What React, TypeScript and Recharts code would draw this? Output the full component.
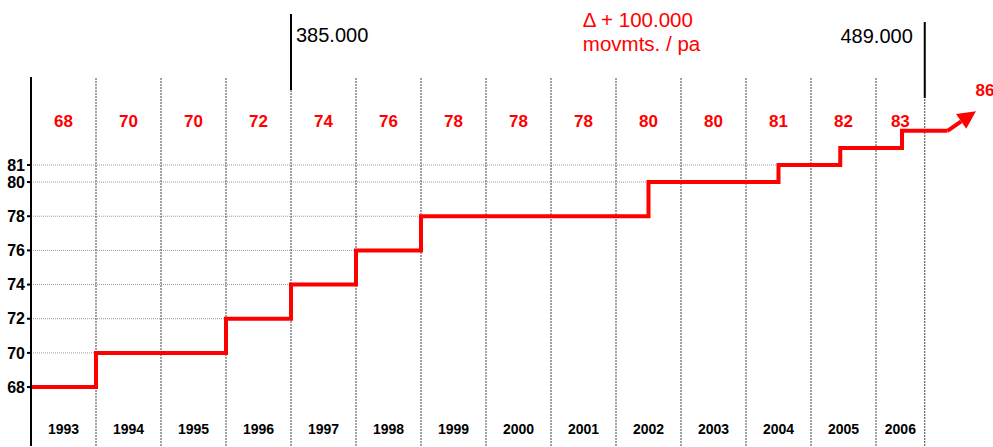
import React from "react";
import {
  ComposedChart,
  Line,
  XAxis,
  YAxis,
  ReferenceLine,
  ReferenceDot,
} from "recharts";

// years along the bottom and the value written above each column
const years = ["1993", "1994", "1995", "1996", "1997", "1998", "1999", "2000", "2001", "2002", "2003", "2004", "2005", "2006"];
const yearValues = [68, 70, 70, 72, 74, 76, 78, 78, 78, 80, 80, 81, 82, 83];

// column borders (in column units, the last column is a bit narrower)
const columnEdges = [0, 1, 2, 3, 4, 5, 6, 7, 8, 9, 10, 11, 12, 13, 13.75];

// the red staircase
const stepX = [0, 1, 3, 4, 5, 6, 9.5, 11.5, 12.45, 13.4, 14.1];
const stepY = [68, 70, 72, 74, 76, 78, 80, 81, 82, 83, 83];

// the arrow going on after 2006
const arrowX = [14.1, 14.31];
const arrowY = [83, 83.55];
const forecastLabel = "86";

const yTicks = [68, 70, 72, 74, 76, 78, 80, 81];

// black marker lines above the chart
const milestoneX = [4, 13.75];
const milestoneTop = [89.84, 89.37];
const milestoneBottom = [85.39, 84.92];
const milestoneText = ["385.000", "489.000"];

const deltaNote = ["Δ + 100.000", "movmts. / pa"];
const deltaAt = { x: 8.49, y: 89.08 };

const Y_DOMAIN: [number, number] = [64.55, 86.15];
const X_DOMAIN: [number, number] = [0, 14.8];
const FONT = '"Liberation Sans", Arial, sans-serif';
const RED = "#ff0000";

const centers = years.map((_, i) => (columnEdges[i] + columnEdges[i + 1]) / 2);
const stepData = stepX.map((x, i) => ({ x, v: stepY[i] }));
const arrowData = arrowX.map((x, i) => ({ x, v: arrowY[i] }));

const nearest = (v: number) => {
  let best = 0;
  centers.forEach((c, i) => {
    if (Math.abs(c - v) < Math.abs(centers[best] - v)) best = i;
  });
  return best;
};

const renderYearTick = (props: any) => {
  const { x, y, payload } = props;
  const i = nearest(Number(payload?.value));
  return (
    <text key={`yt-${i}`} x={x} y={y - 20} textAnchor="middle" fontFamily={FONT} fontSize={14} fontWeight="bold" fill="#000">
      {years[i]}
    </text>
  );
};

const renderValueTick = (props: any) => {
  const { x, y, payload } = props;
  const i = nearest(Number(payload?.value));
  return (
    <text key={`vt-${i}`} x={x} y={y + 58} textAnchor="middle" fontFamily={FONT} fontSize={17} fontWeight="bold" fill={RED}>
      {yearValues[i]}
    </text>
  );
};

const ArrowHead = (props: any) => {
  const { cx, cy, index, points } = props;
  if (index !== arrowX.length - 1) return <g key={`a-${index}`} />;
  let dx = 26;
  let dy = -22;
  if (points && points.length > 1) {
    dx = cx - points[index - 1].x;
    dy = cy - points[index - 1].y;
  }
  const len = Math.hypot(dx, dy) || 1;
  const ux = dx / len;
  const uy = dy / len;
  const tipX = cx + ux * 18;
  const tipY = cy + uy * 18;
  const nx = -uy;
  const ny = ux;
  const pts = `${tipX},${tipY} ${cx + nx * 9},${cy + ny * 9} ${cx - nx * 9},${cy - ny * 9}`;
  return (
    <g key={`a-${index}`}>
      <polygon points={pts} fill={RED} />
      <text x={tipX + 9} y={tipY - 15} textAnchor="middle" fontFamily={FONT} fontSize={17} fontWeight="bold" fill={RED}>
        {forecastLabel}
      </text>
    </g>
  );
};

export default function App() {
  return (
    <div style={{ position: "absolute", top: 0, left: 0 }}>
      <ComposedChart width={993} height={447} margin={{ top: 76, right: 0, bottom: 0, left: 0 }}>
        <XAxis
          dataKey="x"
          type="number"
          domain={X_DOMAIN}
          allowDataOverflow
          ticks={centers}
          interval={0}
          height={1}
          axisLine={false}
          tickLine={false}
          tick={renderYearTick}
        />
        <XAxis
          xAxisId="top"
          orientation="top"
          dataKey="x"
          type="number"
          domain={X_DOMAIN}
          allowDataOverflow
          ticks={centers}
          interval={0}
          height={1}
          axisLine={false}
          tickLine={false}
          tick={renderValueTick}
        />
        <YAxis
          type="number"
          domain={Y_DOMAIN}
          allowDataOverflow
          ticks={yTicks}
          interval={0}
          width={31}
          tickSize={4}
          axisLine={{ stroke: "#000", strokeWidth: 2 }}
          tickLine={{ stroke: "#000", strokeWidth: 2 }}
          tick={{ fill: "#000", fontSize: 16, fontWeight: "bold", fontFamily: FONT }}
        />

        {/* horizontal guides run from the axis to where the staircase reaches that level */}
        {yTicks
          .filter((t) => stepY.indexOf(t) > 0)
          .map((t) => (
            <ReferenceLine
              key={`h-${t}`}
              segment={[
                { x: 0, y: t },
                { x: stepX[stepY.indexOf(t)], y: t },
              ]}
              stroke="#999"
              strokeDasharray="1 1"
            />
          ))}

        {columnEdges.slice(1).map((e) => (
          <ReferenceLine
            key={`v-${e}`}
            segment={[
              { x: e, y: Y_DOMAIN[0] },
              { x: e, y: Y_DOMAIN[1] },
            ]}
            stroke="#444"
            strokeDasharray="2 1"
          />
        ))}

        {milestoneX.map((m, i) => (
          <ReferenceLine
            key={`m-${m}`}
            ifOverflow="visible"
            segment={[
              { x: m, y: milestoneTop[i] },
              { x: m, y: milestoneBottom[i] },
            ]}
            stroke="#000"
            strokeWidth={2}
            label={(p: any) => {
              const vb = p.viewBox || {};
              return i === 0 ? (
                <text x={vb.x + 5} y={vb.y + 28} fontFamily={FONT} fontSize={20} fill="#000">
                  {milestoneText[i]}
                </text>
              ) : (
                <text x={vb.x - 12} y={vb.y + 21} textAnchor="end" fontFamily={FONT} fontSize={20} fill="#000">
                  {milestoneText[i]}
                </text>
              );
            }}
          />
        ))}

        <ReferenceDot
          x={deltaAt.x}
          y={deltaAt.y}
          r={0}
          ifOverflow="visible"
          shape={(p: any) => (
            <text x={p.cx} y={p.cy} fontFamily={FONT} fontSize={20.5} fill={RED}>
              <tspan x={p.cx}>{deltaNote[0]}</tspan>
              <tspan x={p.cx} dy={24}>{deltaNote[1]}</tspan>
            </text>
          )}
        />

        <Line
          data={stepData}
          dataKey="v"
          type="stepAfter"
          stroke={RED}
          strokeWidth={4}
          dot={false}
          isAnimationActive={false}
        />
        <Line
          data={arrowData}
          dataKey="v"
          type="linear"
          stroke={RED}
          strokeWidth={4}
          dot={<ArrowHead />}
          isAnimationActive={false}
        />
      </ComposedChart>
    </div>
  );
}
